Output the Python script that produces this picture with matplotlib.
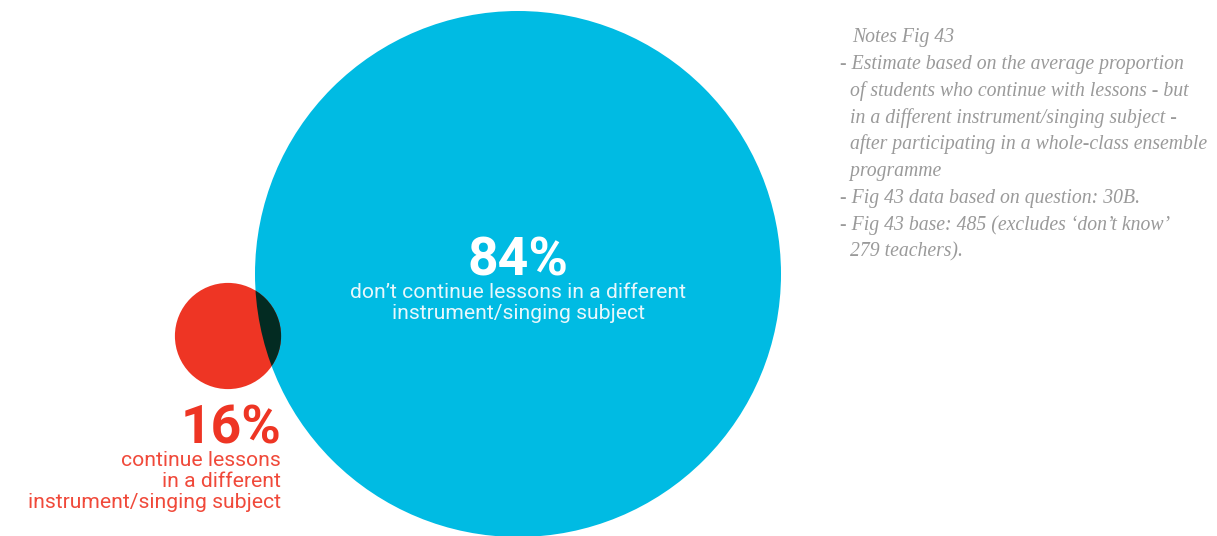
import matplotlib
matplotlib.use("Agg")
import matplotlib.pyplot as plt
from matplotlib.patches import Circle

# Data
categories = ["don\u2019t continue lessons in a different\ninstrument/singing subject",
              "continue lessons\nin a different\ninstrument/singing subject"]
values = [84, 16]
value_labels = ["84%", "16%"]
notes_title = "Notes Fig 43"
notes_lines = [
    "- Estimate based on the average proportion",
    "  of students who continue with lessons - but",
    "  in a different instrument/singing subject -",
    "  after participating in a whole-class ensemble",
    "  programme",
    "- Fig 43 data based on question: 30B.",
    "- Fig 43 base: 485 (excludes \u2018don\u2019t know\u2019",
    "  279 teachers).",
]

W, H = 1217, 536
fig = plt.figure(figsize=(W / 100, H / 100), dpi=100)
ax = fig.add_axes([0, 0, 1, 1])
ax.set_xlim(0, W)
ax.set_ylim(H, 0)
ax.set_aspect("equal")
ax.axis("off")

CYAN = "#00bbe3"
RED = "#ee3524"
RED_TXT = "#f0493a"
DARK = "#032b22"
GREY = "#9a9a9a"

px_per_pct = 263 / 84
centers = [(518, 274), (228, 336)]
radii = [v * px_per_pct for v in values]

big = Circle(centers[0], radii[0], facecolor=CYAN, edgecolor="none", zorder=1)
ax.add_patch(big)
small = Circle(centers[1], radii[1] + 3, facecolor=RED, edgecolor="none", zorder=2)
ax.add_patch(small)
overlap = Circle(centers[1], radii[1] + 3, facecolor=DARK, edgecolor="none", zorder=3)
ax.add_patch(overlap)
overlap.set_clip_path(big)

font = "Roboto"
# Big circle labels
ax.text(518, 276, value_labels[0], color="white", fontsize=38.5, fontweight="bold",
        family=font, ha="center", va="baseline", zorder=5)
ax.text(518, 283.5, categories[0], color="#e8f7fc", fontsize=15.2, family=font,
        ha="center", va="top", linespacing=1.1, zorder=5)

# Small circle labels
ax.text(281, 444, value_labels[1], color=RED, fontsize=38.5, fontweight="bold",
        family=font, ha="right", va="baseline", zorder=5)
ax.text(281, 451, categories[1], color=RED_TXT, fontsize=15.2, family=font,
        ha="right", va="top", linespacing=1.12, zorder=5)

# Notes
ax.text(852, 42, notes_title, color=GREY, fontsize=14.2, family="Liberation Serif",
        style="italic", ha="left", va="baseline")
y0 = 69
for i, line in enumerate(notes_lines):
    ax.text(840, y0 + i * 26.8, line, color=GREY, fontsize=14.2, family="Liberation Serif",
            style="italic", ha="left", va="baseline")

fig.savefig("out.png", dpi=100)
